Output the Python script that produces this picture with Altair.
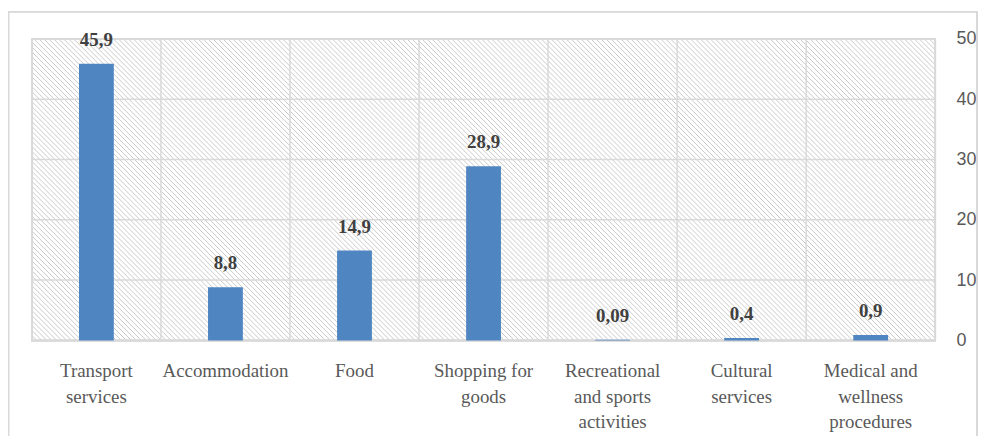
import altair as alt
import pandas as pd

categories = [
    "Transport|services",
    "Accommodation",
    "Food",
    "Shopping for|goods",
    "Recreational|and sports|activities",
    "Cultural|services",
    "Medical and|wellness|procedures",
]
values = [45.9, 8.8, 14.9, 28.9, 0.09, 0.4, 0.9]
value_labels = ["45,9", "8,8", "14,9", "28,9", "0,09", "0,4", "0,9"]
y_ticks = [0, 10, 20, 30, 40, 50]

W, H = 908, 303
BAR = "#4F85C1"
GRID = "#d9d9d9"
HATCH = "#cacaca"
HATCH_STEP = 5

df = pd.DataFrame({"cat": categories, "value": values, "label": value_labels})
grid_df = pd.DataFrame({"y": y_ticks})

x_enc = alt.X(
    "cat:N",
    sort=categories,
    scale=alt.Scale(paddingInner=0, paddingOuter=0),
    axis=alt.Axis(
        title=None,
        labelAngle=0,
        labelAlign="center",
        domain=False,
        ticks=False,
        grid=False,
        labelFont="Liberation Serif",
        labelFontSize=19,
        labelColor="#595959",
        labelPadding=21,
        labelLineHeight=26,
        labelBaseline="top",
        labelExpr="split(datum.label, '|')",
        labelLimit=0,
    ),
)
y_scale = alt.Scale(domain=[0, 50], nice=False)
y_enc = alt.Y(
    "value:Q",
    scale=y_scale,
    axis=alt.Axis(
        title=None,
        orient="right",
        values=y_ticks,
        domain=False,
        ticks=False,
        grid=False,
        labelFont="Liberation Sans",
        labelFontSize=18,
        labelColor="#595959",
        labelPadding=21,
    ),
)

base = alt.Chart(df)

border = base.mark_rect(fill=None, stroke=GRID, strokeWidth=1.2).encode(
    x=alt.value(-23.5), x2=alt.value(950), y=alt.value(-27.5), y2=alt.value(500)
)

# decorative diagonal hatch of the plot background
hatch = (
    alt.Chart(alt.sequence(-H, W + HATCH_STEP, HATCH_STEP, as_="hx0"))
    .transform_calculate(hx1=f"datum.hx0 + {H}")
    .mark_rule(color=HATCH, strokeWidth=1, clip=True)
    .encode(
        x=alt.X("hx0:Q", scale=None),
        x2="hx1:Q",
        y=alt.value(0),
        y2=alt.value(H),
    )
)

frame = base.mark_rect(fill=None, stroke=GRID, strokeWidth=1.5).encode(
    x=alt.value(0), x2=alt.value(W), y=alt.value(0), y2=alt.value(H)
)

vgrid = base.mark_rule(color=GRID, strokeWidth=1.5).encode(
    x=alt.X("cat:N", sort=categories, bandPosition=0)
)

hgrid = alt.Chart(grid_df).mark_rule(color=GRID, strokeWidth=1.5).encode(
    y=alt.Y("y:Q", scale=y_scale)
)

bars = base.mark_bar(color=BAR, width=35).encode(x=x_enc, y=y_enc)

text = base.mark_text(
    font="Liberation Serif",
    fontWeight="bold",
    fontSize=19,
    color="#404040",
    baseline="alphabetic",
    dy=-18,
).encode(x=alt.X("cat:N", sort=categories), y=alt.Y("value:Q", scale=y_scale), text="label:N")

chart = (
    alt.layer(border, hatch, frame, vgrid, hgrid, bars, text)
    .properties(
        width=W,
        height=H,
        autosize=alt.AutoSizeParams(type="none"),
        padding={"left": 24, "top": 30, "right": 43, "bottom": 95},
    )
    .configure_view(stroke=None)
    .configure(background="white")
)

chart.save("out.html", embed_options={"renderer": "svg", "actions": False})
